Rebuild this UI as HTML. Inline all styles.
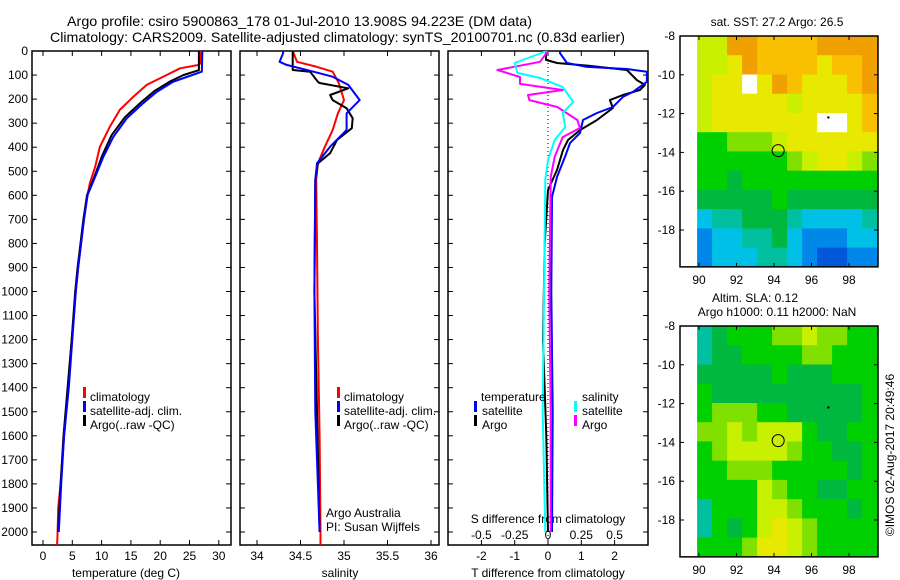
<!DOCTYPE html>
<html><head><meta charset="utf-8"><style>
html,body{margin:0;padding:0;background:#fff;}
svg{display:block;font-family:"Liberation Sans",sans-serif;}
text{fill:#000;}
</style></head><body>
<svg id="fig" width="900" height="580" viewBox="0 0 900 580" xmlns="http://www.w3.org/2000/svg">
<text x="67" y="26" font-size="14" textLength="465" lengthAdjust="spacingAndGlyphs">Argo profile: csiro 5900863_178 01-Jul-2010 13.908S 94.223E (DM data)</text>
<text x="50" y="42" font-size="14" textLength="575" lengthAdjust="spacingAndGlyphs">Climatology: CARS2009. Satellite-adjusted climatology: synTS_20100701.nc (0.83d earlier)</text>
<g id="p1"></g>
<g id="p2"></g>
<g id="p3"></g>
<g id="m1"></g>
<g id="m2"></g>
<text x="777" y="26" font-size="12" text-anchor="middle">sat. SST: 27.2 Argo: 26.5</text>
<text x="755" y="302" font-size="12" text-anchor="middle">Altim. SLA: 0.12</text>
<text x="777" y="316" font-size="12" text-anchor="middle">Argo h1000: 0.11 h2000: NaN</text>
<text x="0" y="0" font-size="12" text-anchor="middle" transform="translate(894,455) rotate(-90)">©IMOS 02-Aug-2017 20:49:46</text>
</svg>
<script>
// ---------- data ----------
const depthTicks=[0,100,200,300,400,500,600,700,800,900,1000,1100,1200,1300,1400,1500,1600,1700,1800,1900,2000];
const tempTicks=[0,5,10,15,20,25,30];
const salTicks=[34,34.5,35,35.5,36];
const tdiffTicks=[-2,-1,0,1,2];
const sdiffTicks=[-0.5,-0.25,0,0.25,0.5];
const sdiffTickLabels=["-0.5","-0.25","0","0.25","0.5"];
const lonTicks=[90,92,94,96,98];
const latTicks=[-8,-10,-12,-14,-16,-18];

const tClimDepth=[0,50,58,72,100,141,191,245,315,399,481,549,600,700,800,900,1000,1200,1400,1600,1800,1900,2000,2054];
const tClimVal=[27.0,26.9,26.6,23.4,21.1,17.7,15.4,13.1,11.4,9.7,8.9,8.0,7.6,7.0,6.5,6.0,5.6,4.9,4.3,3.6,3.0,2.6,2.5,2.4];
const tSatDepth=[0,86,108,128,170,217,280,357,440,523,600,700,800,900,1000,1200,1400,1600,1800,1900,2000];
const tSatVal=[27.2,27.1,24.5,22.2,19.4,17.1,14.3,12.0,10.3,8.9,7.6,7.0,6.5,6.0,5.6,5.0,4.4,3.6,3.1,2.9,2.7];
const tArgoDepth=[0,80,100,125,165,212,275,350,435,520,600,700,800,900,1000,1200,1400,1600,1800,1900,2000];
const tArgoVal=[26.6,26.6,24.0,21.8,19.1,16.8,14.0,11.7,10.1,8.8,7.5,6.9,6.4,5.9,5.5,4.9,4.2,3.5,3.0,2.8,2.6];

const sClimDepth=[0,45,66,86,133,204,259,328,398,467,536,800,1200,1600,2000,2054];
const sClimVal=[34.41,34.46,34.69,34.87,34.94,35.0,34.93,34.87,34.78,34.70,34.68,34.69,34.70,34.72,34.73,34.73];
const sSatDepth=[0,9,45,58,86,107,141,204,259,328,398,467,536,1000,1500,2000];
const sSatVal=[34.30,34.30,34.26,34.34,34.65,34.87,35.05,35.18,35.03,35.03,34.84,34.69,34.67,34.66,34.67,34.72];
const sArgoDepth=[0,79,86,128,133,155,183,204,238,280,321,370,425,467,536,1000,1500,2000];
const sArgoVal=[34.41,34.41,34.61,34.70,34.72,35.05,34.84,34.87,35.03,35.10,35.09,34.92,34.84,34.70,34.67,34.66,34.69,34.72];

const dTSatDepth=[0,9,50,66,75,86,128,170,191,233,258,287,341,383,440,524,607,1000,1500,2000];
const dTSatVal=[0.36,0.36,0.57,1.17,2.37,2.97,2.97,2.55,2.25,1.95,1.47,1.05,0.96,0.66,0.51,0.27,0.12,0.1,0.14,0.12];
const dTArgoDepth=[0,37,50,62,79,121,141,162,183,204,237,287,329,370,412,495,578,800,1200,1600,2000];
const dTArgoVal=[-0.06,-0.06,0.27,1.26,2.37,2.67,2.91,2.76,2.25,1.86,1.95,1.47,0.96,0.60,0.45,0.27,0.0,-0.1,-0.15,-0.05,0.0];
const dSSatDepth=[0,25,50,91,112,150,212,258,316,370,453,536,1000,1500,2000];
const dSSatVal=[-0.01,-0.13,-0.25,-0.23,-0.06,0.11,0.19,0.11,0.13,0.05,0.0,-0.02,-0.03,-0.04,-0.02];
const dSArgoDepth=[0,45,79,108,137,162,183,204,233,287,320,358,440,524,1000,1500,2000];
const dSArgoVal=[0,-0.06,-0.38,-0.21,-0.21,0.11,-0.15,-0.14,0.07,0.22,0.24,0.11,0.05,0.02,0.01,0.02,0.02];

const sstRows=["yyOOooooOOOO","yyYOooooYooO","yYYWYOoYYYoO","yYYYYYyYYYYo","yYYYYYYYWWYo","GGLLLyYYYYYY","GGGGGGLyYYyL","GGgGGGGGGGGG","gggggGgggggg","CTTgggTCCCCT","BCCTTgCBBBCC","BCCCTTCBDDBB"];
const slaRows=["TgGGGLLyLLGG","TggGGGGLLGGG","gggggGgggGGG","GggggggggggG","GLLLGGgggggG","LLyLyyyGggGG","GLyyyyLGGggG","GGLLLGGGGGgG","GGGGyLGGggGG","TGGGyyLGGGgG","TGgGyYyLGGGG","GGGLYYyLGGGG"];
const colorKey={O:"#f0a000",o:"#f8c000",Y:"#e8e800",y:"#c8f000",L:"#80e000",G:"#00d000",g:"#00b840",T:"#00c0a0",C:"#00c0e8",B:"#0088e8",D:"#0058d8",W:"#ffffff"};

// ---------- helpers ----------
const NS="http://www.w3.org/2000/svg";
function mk(parent,tag,attrs){const e=document.createElementNS(NS,tag);for(const k in attrs)e.setAttribute(k,attrs[k]);parent.appendChild(e);return e;}
const Y=d=>51+d*0.2405;
function frame(g,x0,x1,y0,y1){
  const r=mk(g,'rect',{x:x0,y:y0,width:x1-x0,height:y1-y0,fill:'none',stroke:'#000','stroke-width':1.5});
  
}
function line(g,xs,ds,xf,color,name){
  const pts=xs.map((v,i)=>xf(v).toFixed(1)+','+Y(ds[i]).toFixed(1)).join(' ');
  const p=mk(g,'polyline',{points:pts,fill:'none',stroke:color,'stroke-width':2,'stroke-linejoin':'round'});
  
}
function txt(g,x,y,s,size,anchor,name){
  const t=mk(g,'text',{x:x,y:y,'font-size':size,'text-anchor':anchor||'start'});t.textContent=s;
  return t;
}
function vtickSet(g,x0,x1,xf,ticks,y0,y1,labels,ly,name){
  ticks.forEach((v,i)=>{const x=xf(v);
    mk(g,'line',{x1:x,x2:x,y1:y1,y2:y1-5,stroke:'#000'});
    mk(g,'line',{x1:x,x2:x,y1:y0,y2:y0+5,stroke:'#000'});
    if(labels)txt(g,x,ly,labels[i],12,'middle',name);
  });
}
function depthTicksFn(g,x0,x1,withLabels){
  depthTicks.forEach(d=>{const y=Y(d);
    mk(g,'line',{x1:x0,x2:x0+5,y1:y,y2:y,stroke:'#000'});
    mk(g,'line',{x1:x1,x2:x1-5,y1:y,y2:y,stroke:'#000'});
    if(withLabels)txt(g,28,y+4,String(d),12,'end','depth-tick-label');
  });
}
function legendMark(g,x,y,color){const r=mk(g,'rect',{x:x,y:y-10,width:3,height:11,fill:color});}

const TOP=51,BOT=545;
// ---------- panel 1 ----------
{const g=document.getElementById('p1');const xf=t=>43+t*5.86;
 frame(g,32,231,TOP,BOT);depthTicksFn(g,32,231,true);
 vtickSet(g,32,231,xf,tempTicks,TOP,BOT,tempTicks.map(String),560,'temp-tick-label');
 txt(g,126,577,'temperature (deg C)',12,'middle','x-axis-title');
 line(g,tClimVal,tClimDepth,xf,'#ff0000','climatology-line');
 line(g,tArgoVal,tArgoDepth,xf,'#000000','argo-line');
 line(g,tSatVal,tSatDepth,xf,'#0000ff','satellite-line');
 legendMark(g,83,397,'#ff0000');txt(g,90,401,'climatology',12,'start','legend-entry');
 legendMark(g,83,411,'#0000ff');txt(g,90,415,'satellite-adj. clim.',12,'start','legend-entry');
 legendMark(g,83,425,'#000000');txt(g,90,429,'Argo(..raw -QC)',12,'start','legend-entry');
}
// ---------- panel 2 ----------
{const g=document.getElementById('p2');const xf=s=>257+(s-34)*87;
 frame(g,240,439,TOP,BOT);depthTicksFn(g,240,439,false);
 vtickSet(g,240,439,xf,salTicks,TOP,BOT,salTicks.map(String),560,'sal-tick-label');
 txt(g,340,577,'salinity',12,'middle','x-axis-title');
 line(g,sClimVal,sClimDepth,xf,'#ff0000','climatology-line');
 line(g,sArgoVal,sArgoDepth,xf,'#000000','argo-line');
 line(g,sSatVal,sSatDepth,xf,'#0000ff','satellite-line');
 legendMark(g,337,397,'#ff0000');txt(g,344,401,'climatology',12,'start','legend-entry');
 legendMark(g,337,411,'#0000ff');txt(g,344,415,'satellite-adj. clim.',12,'start','legend-entry');
 legendMark(g,337,425,'#000000');txt(g,344,429,'Argo(..raw -QC)',12,'start','legend-entry');
 txt(g,326,517,'Argo Australia',12,'start','credit-text');
 txt(g,326,531,'PI: Susan Wijffels',12,'start','credit-text');
}
// ---------- panel 3 ----------
{const g=document.getElementById('p3');const xf=t=>548+t*33.3;const sf=s=>548+s*133.2;
 frame(g,448,648,TOP,BOT);depthTicksFn(g,448,648,false);
 vtickSet(g,448,648,xf,tdiffTicks,TOP,BOT,tdiffTicks.map(String),560,'tdiff-tick-label');
 sdiffTicks.forEach((v,i)=>{txt(g,sf(v),539,sdiffTickLabels[i],12,'middle','sdiff-tick-label');});
 txt(g,548,523,'S difference from climatology',12,'middle','s-axis-title');
 txt(g,548,577,'T difference from climatology',12,'middle','x-axis-title');
 const z=mk(g,'line',{x1:xf(0),x2:xf(0),y1:TOP,y2:BOT,stroke:'#000','stroke-dasharray':'1,3'});
 
 const cg=mk(g,'g',{'clip-path':'url(#c3)'});
 const cp=mk(mk(g,'defs',{}),'clipPath',{id:'c3'});mk(cp,'rect',{x:448,y:TOP,width:200,height:BOT-TOP});
 line(cg,dTArgoVal,dTArgoDepth,xf,'#000000','t-argo-diff-line');
 line(cg,dTSatVal,dTSatDepth,xf,'#0000ff','t-satellite-diff-line');
 line(cg,dSArgoVal,dSArgoDepth,sf,'#ff00ff','s-argo-diff-line');
 line(cg,dSSatVal,dSSatDepth,sf,'#00ffff','s-satellite-diff-line');
 txt(g,481,401,'temperature',12,'start','legend-title');
 legendMark(g,474,411,'#0000ff');txt(g,482,415,'satellite',12,'start','legend-entry');
 legendMark(g,474,425,'#000000');txt(g,482,429,'Argo',12,'start','legend-entry');
 txt(g,582,401,'salinity',12,'start','legend-title');
 legendMark(g,574,411,'#00ffff');txt(g,582,415,'satellite',12,'start','legend-entry');
 legendMark(g,574,425,'#ff00ff');txt(g,582,429,'Argo',12,'start','legend-entry');
}
// ---------- maps ----------
function drawMap(id,rows,top){
  const g=document.getElementById(id);
  const lx=lon=>699+(lon-90)*18.75;const ly=lat=>top+(-8-lat)*19.4;
  const nC=rows[0].length,nR=rows.length,lon0=89.9,lonStep=(99.5-89.9)/nC,latStep=(19.9-8)/nR;
  rows.forEach((row,r)=>{[...row].forEach((c,k)=>{
    const x0=lx(lon0+k*lonStep),x1=lx(lon0+(k+1)*lonStep),y0=ly(-8-r*latStep),y1=ly(-8-(r+1)*latStep);
    const e=mk(g,'rect',{x:x0.toFixed(1),y:y0.toFixed(1),width:(x1-x0+0.6).toFixed(1),height:(y1-y0+0.6).toFixed(1),fill:colorKey[c]});
    
  });});
  const bottom=ly(-19.9);
  frame(g,680,878,top,bottom);
  lonTicks.forEach(v=>{const x=lx(v);mk(g,'line',{x1:x,x2:x,y1:top,y2:top+4,stroke:'#000'});mk(g,'line',{x1:x,x2:x,y1:bottom,y2:bottom-4,stroke:'#000'});txt(g,x,bottom+17,String(v),12,'middle','lon-tick-label');});
  latTicks.forEach(v=>{const y=ly(v);mk(g,'line',{x1:680,x2:684,y1:y,y2:y,stroke:'#000'});mk(g,'line',{x1:878,x2:874,y1:y,y2:y,stroke:'#000'});txt(g,675,y+4,String(v),12,'end','lat-tick-label');});
  const c=mk(g,'circle',{cx:lx(94.223),cy:ly(-13.908),r:6,fill:'none',stroke:'#000','stroke-width':1});
  
  const d=mk(g,'circle',{cx:lx(96.9),cy:ly(-12.2),r:1.2,fill:'#000'});
  
}
drawMap('m1',sstRows,36);
drawMap('m2',slaRows,326);
</script>
</body></html>
